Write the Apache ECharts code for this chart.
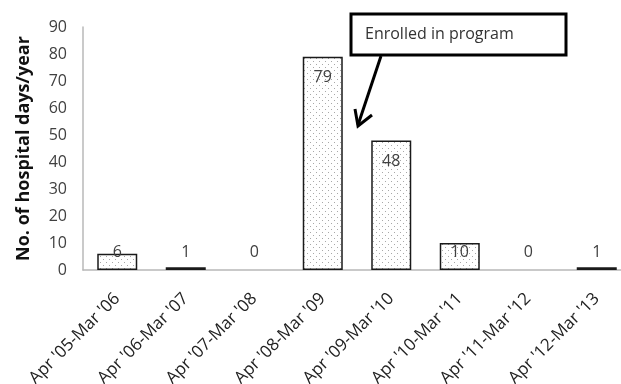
<!DOCTYPE html>
<html>
<head>
<meta charset="utf-8">
<script src="https://cdn.jsdelivr.net/npm/echarts@6/dist/echarts.min.js"></script>
<style>
  html, body { margin: 0; padding: 0; background: #fff; }
  #chart { width: 621px; height: 384px; }
</style>
</head>
<body>
<div id="chart"></div>
<script>
// Hospital days per financial year
const periods = ["Apr '05-Mar '06", "Apr '06-Mar '07", "Apr '07-Mar '08", "Apr '08-Mar '09",
                 "Apr '09-Mar '10", "Apr '10-Mar '11", "Apr '11-Mar '12", "Apr '12-Mar '13"];
const hospitalDays = [6, 1, 0, 79, 48, 10, 0, 1];
const yTicks = { min: 0, max: 90, interval: 10 };
const axisTitle = 'No. of hospital days/year';
const calloutText = 'Enrolled in program';

// Dotted fill used for the bars
function dotPattern() {
  const c = document.createElement('canvas');
  c.width = 6; c.height = 6;
  const g = c.getContext('2d');
  g.fillStyle = '#ffffff';
  g.fillRect(0, 0, 6, 6);
  g.fillStyle = '#a8a8a8';
  g.fillRect(1, 1, 1, 1);
  g.fillRect(4, 4, 1, 1);
  return c;
}
const pattern = { image: dotPattern(), repeat: 'repeat' };

const FONT = '"Open Sans"';
const TEXT = '#404040';

const barData = hospitalDays.map(v => ({
  value: v,
  itemStyle: v === 0 ? { borderWidth: 0 } : (v <= 1 ? { color: '#555555' } : {}),
  label: v >= 20
    ? { position: 'insideTop', distance: 13 }
    : { position: 'insideBottom', distance: 10 }
}));

const chart = echarts.init(document.getElementById('chart'));
chart.setOption({
  animation: false,
  backgroundColor: '#ffffff',
  grid: { left: 83, top: 27, width: 548, height: 243, containLabel: false, outerBoundsMode: 'none' },
  xAxis: {
    type: 'category',
    data: periods,
    axisLine: { lineStyle: { color: '#b8b8b8', width: 1.5 } },
    axisTick: { show: false },
    axisLabel: { rotate: 45, margin: 26, color: '#222', fontFamily: FONT, fontSize: 17, interval: 0 }
  },
  yAxis: {
    type: 'value',
    min: yTicks.min, max: yTicks.max, interval: yTicks.interval,
    splitLine: { show: false },
    axisLine: { show: true, lineStyle: { color: '#b8b8b8', width: 1.5 } },
    axisTick: { show: false },
    axisLabel: { margin: 16, color: TEXT, fontFamily: FONT, fontSize: 16 },
    name: axisTitle,
    nameLocation: 'middle',
    nameGap: 50,
    nameTextStyle: { color: '#111', fontFamily: FONT, fontSize: 18, fontWeight: 'bold' }
  },
  series: [{
    type: 'bar',
    data: barData,
    barWidth: 40,
    itemStyle: { color: pattern, borderColor: '#1a1a1a', borderWidth: 1.5 },
    label: { show: true, color: TEXT, fontFamily: FONT, fontSize: 16, lineHeight: 16 }
  }],
  graphic: [
    {
      type: 'rect',
      shape: { x: 351, y: 14, width: 215, height: 41 },
      style: { fill: '#ffffff', stroke: '#000000', lineWidth: 3 }
    },
    {
      type: 'text',
      x: 365, y: 34,
      style: { text: calloutText, fill: '#333333', font: '16px ' + FONT, textVerticalAlign: 'middle' }
    },
    {
      type: 'line',
      shape: { x1: 381, y1: 56, x2: 358, y2: 125 },
      style: { stroke: '#000000', lineWidth: 3 }
    },
    {
      type: 'polyline',
      shape: { points: [[355, 109], [358, 126], [372, 115]] },
      style: { stroke: '#000000', lineWidth: 3, fill: null, lineJoin: 'miter' }
    }
  ]
});
</script>
</body>
</html>
